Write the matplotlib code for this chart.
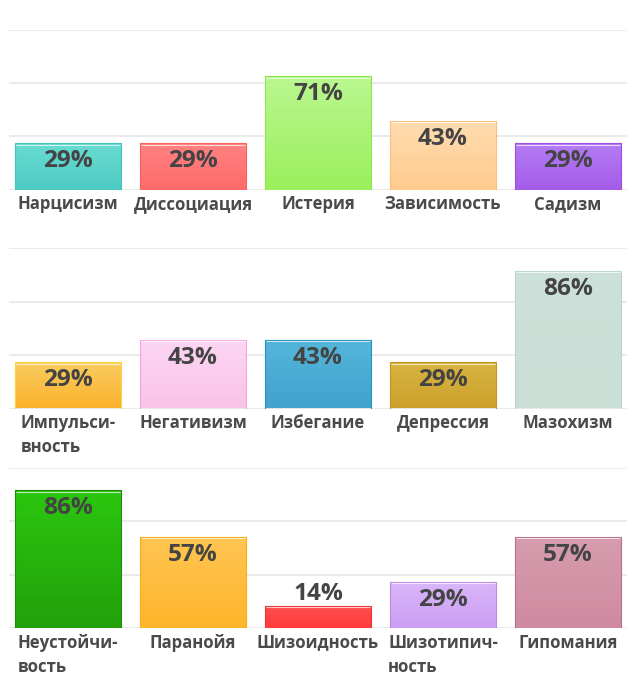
import numpy as np
import matplotlib
matplotlib.use("Agg")
import matplotlib.pyplot as plt
from matplotlib.colors import LinearSegmentedColormap

plt.rcParams['font.family'] = ['Open Sans', 'DejaVu Sans']

# three rows of five categories
row1_labels = ["Нарцисизм", "Диссоциация", "Истерия", "Зависимость", "Садизм"]
row1_values = [29, 29, 71, 43, 29]
row2_labels = ["Импульси-\nвность", "Негативизм", "Избегание", "Депрессия", "Мазохизм"]
row2_values = [29, 43, 43, 29, 86]
row3_labels = ["Неустойчи-\nвость", "Паранойя", "Шизоидность", "Шизотипич-\nность", "Гипомания"]
row3_values = [86, 57, 14, 29, 57]

# (top colour, bottom colour, edge colour)
row1_colors = [("#68dbd1", "#4ecbc3", "#45c2b8"),
               ("#ff8282", "#ff6a6a", "#f56060"),
               ("#b9f790", "#9bf05c", "#8ee84e"),
               ("#ffdcb0", "#ffcb8e", "#f9c07c"),
               ("#b47cf5", "#a45ce9", "#9a4fe2")]
row2_colors = [("#f9cd62", "#fcb22c", "#ffd33a"),
               ("#fcd6f4", "#fac2e9", "#f7a6dc"),
               ("#54b6da", "#41a3ce", "#2590c6"),
               ("#d8b440", "#cda12e", "#c4941c"),
               ("#cbe1d9", "#c9dfd6", "#b9d8cb")]
row3_colors = [("#2bc60f", "#22a10b", "#1d8a09"),
               ("#ffc552", "#ffb52c", "#ffaa10"),
               ("#ff4e4e", "#ff3c3c", "#e83535"),
               ("#d9b6f9", "#cc9ef3", "#b98ae8"),
               ("#d69dae", "#cf8aa0", "#b8708a")]

rows = [(row1_labels, row1_values, row1_colors, 189.5),
        (row2_labels, row2_values, row2_colors, 408.5),
        (row3_labels, row3_values, row3_colors, 628.0)]

W, H = 635, 690
fig = plt.figure(figsize=(W / 100, H / 100), dpi=100)
fig.patch.set_facecolor("white")

plot_h = 160.0
grid_ticks = [0, 100 / 3, 200 / 3, 100]

for labels, values, colors, base_y in rows:
    ax = fig.add_axes([5.5 / W, (H - base_y) / H, 625 / W, plot_h / H])
    ax.set_xlim(-0.5, 4.5)
    ax.set_ylim(0, 100)
    ax.axis("off")

    for t in grid_ticks:
        ax.axhline(t, xmin=4.5 / 625, xmax=620.5 / 625, color="#e6e6e6",
                   lw=1.2, zorder=0)

    x = np.arange(len(values))
    bars = ax.bar(x, values, width=0.848, color="none", zorder=2)
    px_per_unit = plot_h / 100

    for bar, val, (c_top, c_bot, c_edge) in zip(bars, values, colors):
        x0, w, h = bar.get_x(), bar.get_width(), bar.get_height()
        cmap = LinearSegmentedColormap.from_list("g", [c_bot, c_top])
        grad = np.linspace(0, 1, 64).reshape(-1, 1)
        img = ax.imshow(grad, cmap=cmap, origin="lower", aspect="auto",
                        extent=(x0, x0 + w, 0, h), zorder=2)
        img.set_clip_path(bar)
        ax.bar(bar.get_x() + w / 2, h, width=w, facecolor="none",
               edgecolor=c_edge, lw=0.8, zorder=3)
        # thin white highlight just under the top edge
        ax.hlines(h - 1.6 / px_per_unit, x0 + 0.01, x0 + w - 0.01,
                  color="white", alpha=0.7, lw=0.8, zorder=3)

        if h * px_per_unit > 35:
            ax.annotate(f"{val}%", (bar.get_x() + w / 2, h), xytext=(0, -18),
                        textcoords="offset pixels", ha="center", va="center",
                        fontsize=17.6, fontweight="bold", color="#444444",
                        zorder=4)
        else:
            ax.annotate(f"{val}%", (bar.get_x() + w / 2, h), xytext=(0, 12),
                        textcoords="offset pixels", ha="center", va="center",
                        fontsize=17.6, fontweight="bold", color="#444444",
                        zorder=4)

    for xi, lab in zip(x, labels):
        ax.annotate(lab, (xi, 0), xytext=(0, -5.5), textcoords="offset pixels",
                    ha="center", va="top", multialignment="left",
                    linespacing=1.45, fontsize=12.1, fontweight="bold",
                    color="#4a4a4a", annotation_clip=False)

fig.savefig("out.png", dpi=100, facecolor="white")
